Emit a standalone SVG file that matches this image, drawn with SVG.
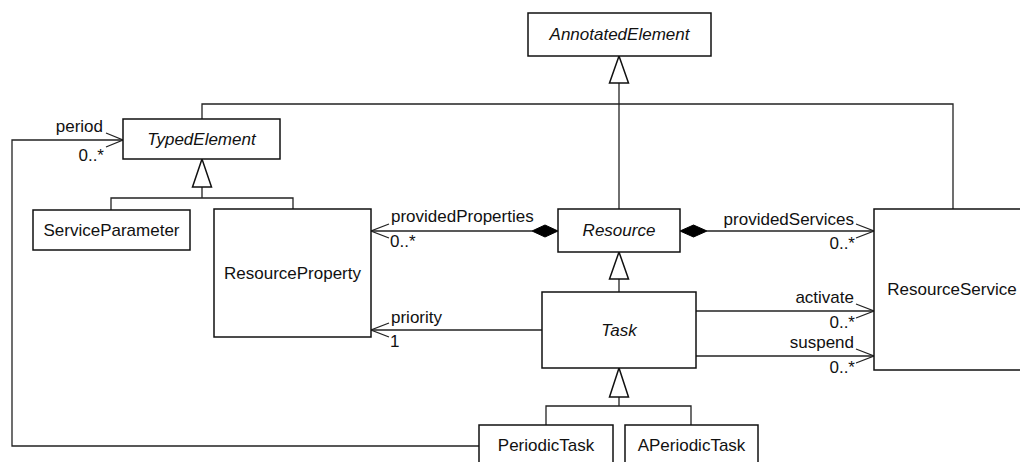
<svg xmlns="http://www.w3.org/2000/svg" width="1020" height="462" viewBox="0 0 1020 462">
<style>
.box{fill:#fff;stroke:#111;stroke-width:1.5}
.ln{fill:none;stroke:#222;stroke-width:1.3}
.tri{fill:#fff;stroke:#111;stroke-width:1.5}
.dia{fill:#000;stroke:#000;stroke-width:1}
text{font-family:"Liberation Sans",Arial,sans-serif;font-size:17px;fill:#111}
.n{text-anchor:middle}
.i{font-style:italic}
.e{text-anchor:end}
</style>
<rect width="1020" height="462" fill="#fff"/>
<g id="connectors">
  <path class="ln" d="M619,209 V83"/>
  <path class="ln" d="M202,119 V104 H953 V209"/>
  <polygon class="tri" points="619,56 609.5,83 628.5,83"/>
  <path class="ln" d="M202,187 V198 M111,210 V198 H293 V209"/>
  <polygon class="tri" points="202,159 192.5,187 211.5,187"/>
  <path class="ln" d="M619,279 V292"/>
  <polygon class="tri" points="619,252 609.5,279 628.5,279"/>
  <path class="ln" d="M619,397 V406 M546,425 V406 H691 V425"/>
  <polygon class="tri" points="619,368 609.5,397 628.5,397"/>
  <path class="ln" d="M479,446 H12 V140 H123"/>
  <path class="ln" d="M106,133 L123,140 L106,147"/>
  <path class="ln" d="M371,231 H532"/>
  <path class="ln" d="M389,224 L371,231 L389,238"/>
  <polygon class="dia" points="558,231 545,225 532,231 545,237"/>
  <path class="ln" d="M371,330 H542"/>
  <path class="ln" d="M389,323 L371,330 L389,337"/>
  <path class="ln" d="M707,231 H874"/>
  <path class="ln" d="M856,224 L874,231 L856,238"/>
  <polygon class="dia" points="680,231 693.5,225 707,231 693.5,237"/>
  <path class="ln" d="M696,311 H874"/>
  <path class="ln" d="M856,304 L874,311 L856,318"/>
  <path class="ln" d="M696,356 H874"/>
  <path class="ln" d="M856,349 L874,356 L856,363"/>
  <text class="e" x="103" y="132">period</text>
  <text class="e" x="104" y="161">0..*</text>
  <text x="391" y="222">providedProperties</text>
  <text x="390" y="247">0..*</text>
  <text x="391" y="323">priority</text>
  <text x="390" y="347">1</text>
  <text class="e" x="854" y="225">providedServices</text>
  <text class="e" x="855" y="249">0..*</text>
  <text class="e" x="854" y="303">activate</text>
  <text class="e" x="855" y="328">0..*</text>
  <text class="e" x="854" y="348">suspend</text>
  <text class="e" x="855" y="373">0..*</text>
</g>
<g id="AnnotatedElement">
  <rect class="box" x="528" y="13" width="183" height="43"/>
  <text class="n i" x="619.5" y="40">AnnotatedElement</text>
</g>
<g id="TypedElement">
  <rect class="box" x="123" y="119" width="157" height="40"/>
  <text class="n i" x="201.5" y="145">TypedElement</text>
</g>
<g id="ServiceParameter">
  <rect class="box" x="33" y="210" width="157" height="40"/>
  <text class="n" x="111.5" y="236">ServiceParameter</text>
</g>
<g id="ResourceProperty">
  <rect class="box" x="214" y="209" width="157" height="128"/>
  <text class="n" x="292.5" y="279">ResourceProperty</text>
</g>
<g id="Resource">
  <rect class="box" x="558" y="209" width="122" height="43"/>
  <text class="n i" x="619" y="236">Resource</text>
</g>
<g id="Task">
  <rect class="box" x="542" y="292" width="154" height="76"/>
  <text class="n i" x="619" y="336">Task</text>
</g>
<g id="ResourceService">
  <rect class="box" x="874" y="209" width="156" height="161"/>
  <text class="n" x="952" y="295">ResourceService</text>
</g>
<g id="PeriodicTask">
  <rect class="box" x="479" y="425" width="134" height="50"/>
  <text class="n" x="546" y="451">PeriodicTask</text>
</g>
<g id="APeriodicTask">
  <rect class="box" x="625" y="425" width="133" height="50"/>
  <text class="n" x="691.5" y="451">APeriodicTask</text>
</g>
</svg>
